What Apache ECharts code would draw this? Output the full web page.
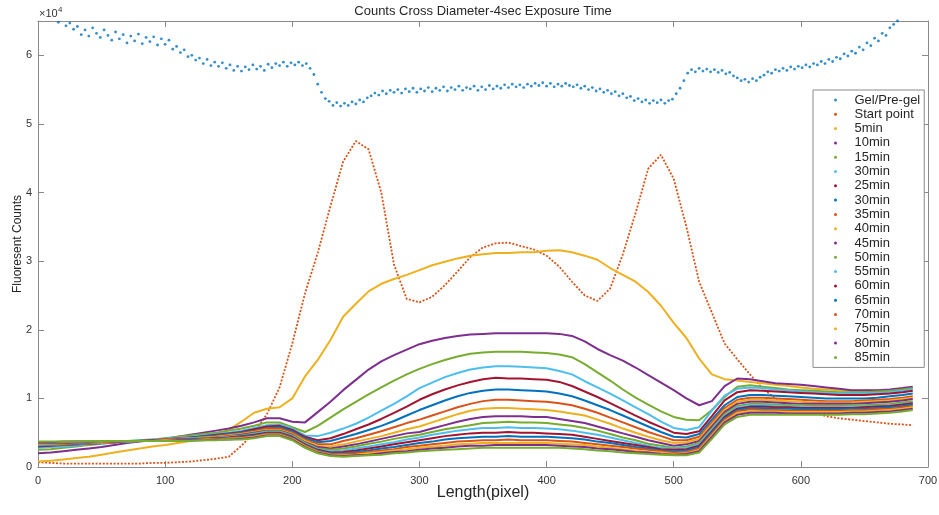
<!DOCTYPE html>
<html>
<head>
<meta charset="utf-8">
<title>Counts Cross Diameter-4sec Exposure Time</title>
<script src="https://cdn.jsdelivr.net/npm/echarts@6/dist/echarts.min.js"></script>
<style>
  html, body { margin: 0; padding: 0; background: #ffffff; }
  #chart { width: 939px; height: 515px; }
</style>
</head>
<body>
<div id="chart"></div>
<script>
// Positions along the diameter (pixel) at which the time-series profiles are sampled
const lengthPx = [0, 10, 20, 30, 40, 50, 60, 70, 80, 90,
  100, 110, 120, 130, 140, 150, 160, 170, 180, 190,
  200, 210, 220, 230, 240, 250, 260, 270, 280, 290,
  300, 310, 320, 330, 340, 350, 360, 370, 380, 390,
  400, 410, 420, 430, 440, 450, 460, 470, 480, 490,
  500, 510, 520, 530, 540, 550, 560, 570, 580, 590,
  600, 610, 620, 630, 640, 650, 660, 670, 680, 688];

// Gel/Pre-gel profile: one reading every 3 pixels, starting at pixel 1
const gelFirstPx = 1;
const gelStepPx = 3;
const gelPreGel = [
  67200, 66700, 66900, 66000, 65700, 64800, 65100, 64300, 64700, 63800,
  64200, 63000, 63700, 62800, 64000, 63200, 62600, 63700, 62900, 62200,
  63400, 62400, 63000, 61800, 62800, 62100, 63100, 61700, 62600, 62000,
  62700, 61500, 62400, 61600, 62200, 60900, 61300, 60400, 60800, 59800,
  60000, 59300, 59600, 58800, 59400, 58500, 59000, 58400, 58900, 58100,
  58600, 57800, 58400, 57700, 58300, 57900, 58600, 58000, 58400, 57800,
  58700, 58200, 58800, 58500, 59000, 58400, 58900, 58600, 59000, 58500,
  58800, 58100, 57200, 55800, 54600, 53700, 53300, 52700, 53100, 52600,
  53000, 52700, 53200, 52900, 53500, 53200, 53800, 54100, 54500, 54200,
  54800, 54400, 54900, 54600, 55000, 54500, 55100, 54700, 55200, 54600,
  55100, 54800, 55300, 54700, 55200, 54900, 55400, 54800, 55300, 55000,
  55500, 54900, 55300, 55100, 55500, 54900, 55400, 55000, 55600, 55100,
  55500, 55200, 55700, 55300, 55800, 55400, 55700, 55300, 55800, 55500,
  55900, 55600, 56000, 55500, 55900, 55400, 55800, 55500, 55900, 55600,
  55400, 55700, 55200, 55500, 55000, 55300, 54800, 55100, 54600, 54900,
  54400, 54700, 54100, 54400, 53800, 54000, 53400, 53700, 53200, 53500,
  53000, 53400, 53100, 53500, 53000, 53400, 53600, 54400, 55200, 56300,
  57400, 57900, 57600, 58100, 57700, 58000, 57600, 57900, 57500, 57800,
  57300, 57500, 57000, 56700, 56300, 56500, 56100, 56600, 56300, 56800,
  57100, 57600, 57400, 57900, 57700, 58100, 57800, 58300, 58000, 58400,
  58200, 58600, 58300, 58800, 58600, 59100, 58800, 59400, 59100, 59700,
  59500, 60200, 59900, 60600, 60300, 61200, 60800, 61800, 61400, 62500,
  62100, 63200, 62900, 64000, 64500, 65000, 65500, 66000, 66400, 66800];

const startPoint = [
  700, 600, 500, 500, 500, 500, 500, 500, 500, 600,
  600, 700, 800, 1000, 1200, 1500, 3100, 5000, 7700, 11600,
  18000, 25300, 31200, 38000, 44500, 47500, 46300, 40000, 29500, 24500,
  24000, 24800, 26500, 28500, 30600, 32000, 32600, 32700, 32200, 31700,
  30800, 29200, 27000, 25000, 24200, 26000, 31000, 37000, 43500, 45500,
  42000, 35000, 27000, 22500, 18000, 15700, 13500, 11400, 10000, 9200,
  8500, 7900, 7400, 7100, 6900, 6700, 6500, 6300, 6200, 6100];

const min5 = [
  800, 900, 1100, 1300, 1500, 1800, 2100, 2400, 2700, 3000,
  3200, 3500, 3800, 4200, 4700, 5400, 6600, 7900, 8500, 8700,
  10000, 13200, 15600, 18500, 21900, 23800, 25600, 26700, 27400, 28000,
  28700, 29400, 29900, 30400, 30800, 31000, 31200, 31200, 31300, 31300,
  31500, 31600, 31300, 30800, 30200, 29000, 28000, 27000, 25500, 23500,
  21000, 18800, 15800, 13500, 12800, 12600, 12400, 12200, 12000, 11800,
  11600, 11400, 11300, 11200, 11100, 11100, 11100, 11200, 11400, 11600];

const min10 = [
  2000, 2100, 2300, 2500, 2700, 2900, 3200, 3500, 3700, 3900,
  4100, 4400, 4700, 5000, 5300, 5600, 6000, 6500, 7100, 7100,
  6600, 6500, 8000, 9500, 11200, 12700, 14200, 15400, 16300, 17100,
  17900, 18400, 18800, 19100, 19300, 19400, 19500, 19500, 19500, 19500,
  19500, 19400, 19100, 18300, 17200, 16300, 15500, 14500, 13400, 12300,
  11200, 10000, 9000, 9600, 11800, 12900, 12800, 12500, 12200, 12100,
  12000, 11800, 11600, 11400, 11200, 11200, 11200, 11300, 11500, 11700];

const min15 = [
  2500, 2600, 2800, 3000, 3200, 3400, 3600, 3800, 3900, 4000,
  4200, 4400, 4600, 4800, 5000, 5300, 5600, 6000, 6500, 6500,
  5800, 5100, 6000, 7200, 8400, 9500, 10600, 11600, 12600, 13500,
  14300, 15000, 15600, 16100, 16500, 16700, 16800, 16800, 16800, 16700,
  16600, 16400, 16000, 15000, 13800, 12600, 11300, 10100, 9100, 8100,
  7300, 6900, 6800, 8300, 10200, 11700, 11900, 11700, 11500, 11300,
  11200, 11100, 11000, 10900, 10900, 10900, 11000, 11100, 11300, 11500];

const min30a = [
  2800, 2900, 3000, 3100, 3300, 3400, 3600, 3700, 3900, 4000,
  4100, 4300, 4400, 4600, 4800, 5000, 5300, 5700, 6100, 6200,
  5600, 4600, 4500, 5000, 5600, 6300, 7200, 8200, 9200, 10300,
  11500, 12300, 13100, 13700, 14200, 14500, 14700, 14700, 14600, 14500,
  14400, 14000, 13500, 12500, 11600, 10700, 9700, 8700, 7700, 6600,
  5700, 5400, 5800, 8200, 10400, 11400, 11600, 11500, 11300, 11200,
  11000, 10900, 10800, 10700, 10700, 10700, 10800, 10900, 11100, 11300];

const min25 = [
  3000, 3100, 3200, 3300, 3400, 3500, 3600, 3700, 3800, 3900,
  4000, 4200, 4300, 4500, 4700, 4900, 5100, 5500, 5900, 6000,
  5400, 4400, 3900, 4200, 4800, 5500, 6200, 7000, 7900, 8800,
  9800, 10600, 11300, 11900, 12400, 12800, 13000, 12900, 12900, 12800,
  12700, 12400, 11800, 11000, 10200, 9300, 8400, 7500, 6600, 5800,
  5000, 4800, 5200, 7400, 9700, 10900, 11200, 11100, 11000, 10900,
  10800, 10700, 10600, 10500, 10500, 10500, 10600, 10700, 10900, 11100];

const min30b = [
  3100, 3200, 3300, 3300, 3400, 3500, 3600, 3700, 3800, 3900,
  4000, 4100, 4300, 4400, 4600, 4800, 5000, 5300, 5700, 5800,
  5200, 4200, 3600, 3800, 4300, 4800, 5400, 6000, 6700, 7500,
  8300, 9000, 9700, 10300, 10800, 11100, 11300, 11300, 11200, 11100,
  11000, 10700, 10300, 9700, 9000, 8300, 7500, 6700, 5900, 5100,
  4400, 4300, 4800, 6900, 9000, 10200, 10500, 10500, 10400, 10300,
  10200, 10100, 10000, 10000, 10000, 10000, 10100, 10300, 10500, 10700];

const min35 = [
  3200, 3200, 3300, 3400, 3400, 3500, 3600, 3700, 3800, 3900,
  4000, 4100, 4200, 4300, 4500, 4700, 4900, 5200, 5600, 5600,
  5000, 4000, 3300, 3300, 3800, 4200, 4700, 5200, 5800, 6400,
  6900, 7500, 8100, 8700, 9200, 9600, 9800, 9800, 9700, 9600,
  9500, 9300, 9000, 8500, 7900, 7200, 6500, 5800, 5100, 4500,
  3900, 3900, 4400, 6500, 8600, 9800, 10100, 10100, 10000, 9900,
  9800, 9700, 9600, 9600, 9600, 9700, 9800, 9900, 10100, 10300];

const min40 = [
  3200, 3300, 3300, 3400, 3500, 3500, 3600, 3700, 3800, 3900,
  4000, 4100, 4200, 4300, 4400, 4600, 4800, 5100, 5400, 5400,
  4800, 3800, 3100, 3000, 3300, 3700, 4100, 4500, 5000, 5500,
  5900, 6500, 7100, 7700, 8200, 8500, 8600, 8600, 8500, 8400,
  8300, 8100, 7800, 7500, 6900, 6300, 5600, 5000, 4400, 3900,
  3500, 3600, 4100, 6200, 8300, 9500, 9800, 9800, 9700, 9600,
  9500, 9400, 9400, 9400, 9400, 9500, 9600, 9700, 9900, 10100];

const min45 = [
  3300, 3300, 3400, 3400, 3500, 3600, 3600, 3700, 3800, 3900,
  4000, 4000, 4100, 4200, 4300, 4500, 4700, 5000, 5300, 5300,
  4700, 3600, 2900, 2700, 3000, 3300, 3700, 4100, 4500, 4900,
  5100, 5600, 6100, 6600, 7000, 7300, 7400, 7400, 7400, 7300,
  7300, 7000, 6700, 6400, 5900, 5400, 4900, 4400, 3900, 3500,
  3100, 3300, 3800, 5900, 8000, 9200, 9500, 9500, 9400, 9300,
  9200, 9200, 9200, 9200, 9200, 9300, 9400, 9500, 9700, 9900];

const min50 = [
  3400, 3400, 3400, 3500, 3500, 3600, 3700, 3700, 3800, 3900,
  3900, 4000, 4100, 4200, 4300, 4400, 4600, 4900, 5200, 5200,
  4600, 3500, 2700, 2500, 2700, 3000, 3400, 3700, 4100, 4400,
  4700, 5100, 5500, 5800, 6100, 6400, 6500, 6600, 6500, 6500,
  6400, 6200, 6000, 5700, 5300, 4800, 4300, 3900, 3400, 3100,
  2800, 3000, 3500, 5600, 7700, 8900, 9200, 9200, 9100, 9000,
  9000, 8900, 8900, 8900, 9000, 9000, 9100, 9200, 9400, 9600];

const min55 = [
  3400, 3400, 3500, 3500, 3600, 3600, 3700, 3700, 3800, 3900,
  3900, 4000, 4100, 4100, 4200, 4400, 4500, 4800, 5100, 5100,
  4500, 3400, 2600, 2300, 2400, 2700, 3000, 3300, 3600, 4000,
  4300, 4700, 5000, 5300, 5500, 5700, 5700, 5800, 5700, 5700,
  5600, 5500, 5300, 5000, 4700, 4300, 3900, 3500, 3100, 2800,
  2700, 2800, 3300, 5400, 7500, 8700, 9000, 9000, 8900, 8800,
  8800, 8700, 8700, 8700, 8800, 8800, 8900, 9000, 9200, 9400];

const min60 = [
  3500, 3500, 3500, 3600, 3600, 3700, 3700, 3800, 3800, 3900,
  3900, 4000, 4000, 4100, 4200, 4300, 4500, 4700, 5000, 5000,
  4400, 3300, 2500, 2100, 2200, 2400, 2700, 3000, 3300, 3600,
  3900, 4200, 4500, 4700, 4900, 5000, 5000, 5100, 5000, 5000,
  4900, 4800, 4700, 4400, 4100, 3800, 3500, 3200, 2900, 2600,
  2500, 2600, 3100, 5200, 7300, 8500, 8800, 8800, 8700, 8700,
  8600, 8600, 8600, 8600, 8600, 8700, 8800, 8900, 9100, 9300];

const min65 = [
  3500, 3500, 3600, 3600, 3600, 3700, 3700, 3800, 3800, 3800,
  3900, 3900, 4000, 4000, 4100, 4200, 4400, 4600, 4900, 4900,
  4300, 3200, 2400, 2000, 2000, 2200, 2400, 2700, 2900, 3200,
  3500, 3700, 4000, 4200, 4300, 4400, 4400, 4500, 4400, 4400,
  4400, 4300, 4200, 4000, 3700, 3500, 3200, 2900, 2700, 2400,
  2300, 2400, 2900, 5000, 7100, 8300, 8600, 8600, 8500, 8500,
  8400, 8400, 8400, 8400, 8500, 8500, 8600, 8700, 8900, 9100];

const min70 = [
  3500, 3600, 3600, 3600, 3700, 3700, 3700, 3800, 3800, 3800,
  3900, 3900, 3900, 4000, 4100, 4200, 4300, 4500, 4800, 4800,
  4200, 3100, 2300, 1900, 1900, 2000, 2200, 2400, 2600, 2900,
  3100, 3300, 3500, 3700, 3800, 3900, 3900, 4000, 3900, 3900,
  3900, 3800, 3700, 3500, 3300, 3100, 2900, 2700, 2500, 2300,
  2100, 2200, 2700, 4800, 6900, 8100, 8400, 8300, 8300, 8200,
  8200, 8200, 8200, 8200, 8300, 8300, 8400, 8500, 8700, 8900];

const min75 = [
  3600, 3600, 3600, 3700, 3700, 3700, 3800, 3800, 3800, 3800,
  3900, 3900, 3900, 4000, 4000, 4100, 4200, 4400, 4700, 4700,
  4100, 3000, 2200, 1800, 1700, 1800, 2000, 2200, 2400, 2600,
  2800, 3000, 3100, 3300, 3400, 3500, 3500, 3500, 3500, 3500,
  3500, 3400, 3300, 3200, 3000, 2800, 2600, 2400, 2200, 2100,
  1900, 2000, 2500, 4600, 6700, 7900, 8100, 8100, 8100, 8000,
  8000, 8000, 8000, 8000, 8100, 8100, 8200, 8300, 8500, 8700];

const min80 = [
  3600, 3600, 3700, 3700, 3700, 3800, 3800, 3800, 3800, 3800,
  3800, 3900, 3900, 3900, 4000, 4000, 4100, 4300, 4600, 4600,
  4000, 2900, 2100, 1700, 1600, 1700, 1800, 2000, 2200, 2300,
  2500, 2700, 2800, 3000, 3100, 3100, 3200, 3200, 3200, 3200,
  3200, 3100, 3000, 2900, 2700, 2600, 2400, 2200, 2100, 1900,
  1800, 1900, 2300, 4400, 6500, 7600, 7900, 7900, 7900, 7800,
  7800, 7800, 7800, 7800, 7900, 7900, 8000, 8100, 8300, 8500];

const min85 = [
  3700, 3700, 3700, 3700, 3800, 3800, 3800, 3800, 3800, 3800,
  3800, 3800, 3800, 3900, 3900, 4000, 4000, 4200, 4500, 4500,
  3900, 2800, 2000, 1600, 1500, 1600, 1700, 1800, 2000, 2100,
  2300, 2400, 2500, 2600, 2700, 2800, 2800, 2800, 2800, 2800,
  2800, 2800, 2700, 2600, 2400, 2300, 2100, 2000, 1900, 1800,
  1700, 1700, 2100, 4100, 6200, 7300, 7600, 7600, 7600, 7600,
  7600, 7600, 7600, 7600, 7700, 7700, 7800, 7900, 8100, 8300];

// Legend entries, in plotting order (the second "30min" carries a trailing space so both entries are listed)
const seriesNames = ['Gel/Pre-gel', 'Start point', '5min', '10min', '15min', '30min', '25min', '30min ',
  '35min', '40min', '45min', '50min', '55min', '60min', '65min', '70min', '75min', '80min', '85min'];
const curveValues = [startPoint, min5, min10, min15, min30a, min25, min30b, min35, min40,
  min45, min50, min55, min60, min65, min70, min75, min80, min85];

// Default MATLAB colour order, cycled over the series
const colorOrder = ['#0072BD', '#D95319', '#EDB120', '#7E2F8E', '#77AC30', '#4DBEEE', '#A2142F'];

const yTickLabels = ['0', '1', '2', '3', '4', '5', '6'];

const FONT = '"Liberation Sans", Arial, Helvetica, sans-serif';
const AXIS_COLOR = '#8a8a8a';
const TEXT_COLOR = '#333333';

const series = [];
series.push({
  name: seriesNames[0],
  type: 'scatter',
  data: gelPreGel.map((v, i) => [gelFirstPx + gelStepPx * i, v]),
  symbol: 'circle',
  symbolSize: 2.8,
  itemStyle: { color: colorOrder[0] },
  clip: true,
  silent: true
});
curveValues.forEach((vals, k) => {
  const idx = k + 1;
  series.push({
    name: seriesNames[idx],
    type: 'line',
    data: lengthPx.map((x, i) => [x, vals[i]]),
    showSymbol: false,
    symbol: 'circle',
    smooth: false,
    clip: true,
    silent: true,
    itemStyle: { color: colorOrder[idx % colorOrder.length] },
    lineStyle: {
      color: colorOrder[idx % colorOrder.length],
      width: idx === 1 ? 1.8 : 2,
      type: idx === 1 ? [2, 1.6] : 'solid'
    }
  });
});

// Box-style axes: ticks point into the plot on all four sides
function boxAxis(extra) {
  return Object.assign({
    type: 'value',
    axisLine: { show: true, onZero: false, lineStyle: { color: AXIS_COLOR, width: 1 } },
    axisTick: { show: true, inside: true, length: 6, lineStyle: { color: AXIS_COLOR, width: 1 } },
    splitLine: { show: false },
    nameMoveOverlap: false
  }, extra);
}

const chart = echarts.init(document.getElementById('chart'), null, { renderer: 'canvas' });
chart.setOption({
  animation: false,
  backgroundColor: '#ffffff',
  grid: { left: 38, right: 11, top: 21, bottom: 48, containLabel: false, outerBoundsMode: 'none' },
  xAxis: [
    boxAxis({
      position: 'bottom', min: 0, max: 700, interval: 100,
      axisTick: { show: true, inside: true, length: 6, lineStyle: { color: AXIS_COLOR, width: 1 } },
      axisLabel: { color: TEXT_COLOR, fontSize: 11, fontFamily: FONT, margin: 8 },
      name: 'Length(pixel)', nameLocation: 'middle', nameGap: 18,
      nameTextStyle: { color: '#262626', fontSize: 16, fontFamily: FONT }
    }),
    boxAxis({
      position: 'top', min: 0, max: 700, interval: 100,
      axisTick: { show: true, inside: true, length: 6, lineStyle: { color: AXIS_COLOR, width: 1 } },
      axisLabel: { show: false }
    })
  ],
  yAxis: [
    boxAxis({
      position: 'left', min: 0, max: 65000, interval: 10000,
      axisTick: { show: true, inside: true, length: 6, lineStyle: { color: AXIS_COLOR, width: 1 } },
      axisLabel: {
        color: TEXT_COLOR, fontSize: 11, fontFamily: FONT, margin: 6, showMaxLabel: false,
        formatter: (v) => yTickLabels[Math.round(v / 10000)] || ''
      },
      name: 'Fluoresent Counts', nameLocation: 'middle', nameGap: 14, nameRotate: 90,
      nameTextStyle: { color: '#262626', fontSize: 12, fontFamily: FONT }
    }),
    boxAxis({
      position: 'right', min: 0, max: 65000, interval: 10000,
      axisTick: { show: true, inside: true, length: 6, lineStyle: { color: AXIS_COLOR, width: 1 } },
      axisLabel: { show: false }
    })
  ],
  legend: {
    orient: 'vertical',
    left: 813,
    top: 90,
    data: seriesNames,
    icon: 'circle',
    itemWidth: 28,
    itemHeight: 3,
    itemGap: 0.3,
    padding: [3, 4, 3, 21],
    backgroundColor: '#ffffff',
    borderColor: '#8a8a8a',
    borderWidth: 1,
    borderRadius: 0,
    selectedMode: false,
    textStyle: { fontSize: 13, lineHeight: 14, color: '#262626', fontFamily: FONT }
  },
  graphic: [
    {
      type: 'text', x: 483, y: 11, silent: true,
      style: {
        text: 'Counts Cross Diameter-4sec Exposure Time',
        fontSize: 13, fontFamily: FONT, fill: '#262626',
        align: 'center', verticalAlign: 'middle'
      }
    },
    {
      type: 'text', x: 39, y: 14, silent: true,
      style: { text: '\u00d710', fontSize: 11, fontFamily: FONT, fill: TEXT_COLOR, align: 'left', verticalAlign: 'middle' }
    },
    {
      type: 'text', x: 58, y: 10, silent: true,
      style: { text: '4', fontSize: 8, fontFamily: FONT, fill: TEXT_COLOR, align: 'left', verticalAlign: 'middle' }
    }
  ],
  series: series
});
</script>
</body>
</html>
